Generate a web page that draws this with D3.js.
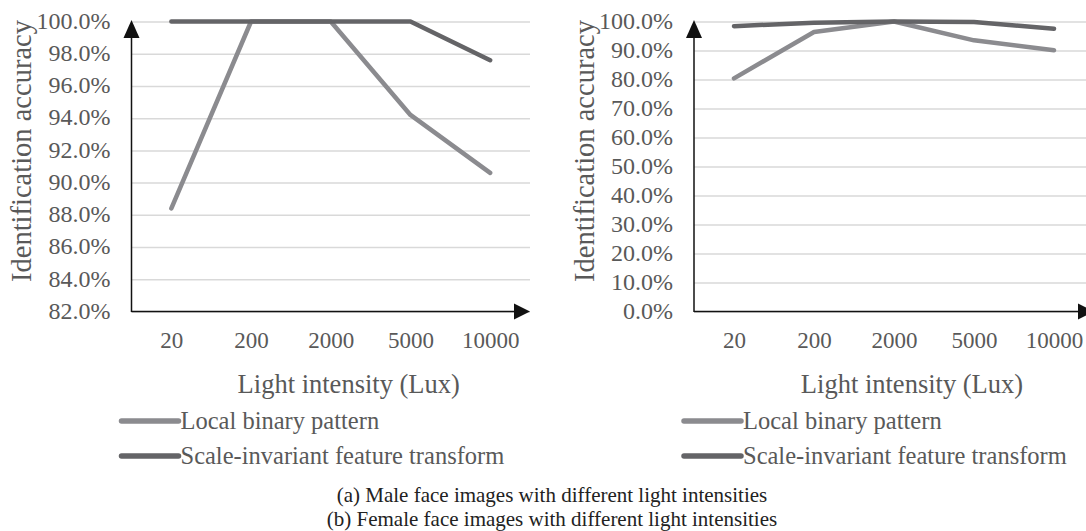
<!DOCTYPE html>
<meta charset="utf-8">
<script src="https://cdn.jsdelivr.net/npm/d3@7"></script>
<style>
body { margin: 0; background: #fff; }
.grid line { stroke: #d9d9d9; stroke-width: 1.5px; }
.grid .domain { display: none; }
</style>
<body></body>
<script>
// light intensities (Lux)
var lux = ["20", "200", "2000", "5000", "10000"];

// (a) male faces
var maleLBP  = [88.4, 100, 100, 94.2, 90.6];
var maleSIFT = [100, 100, 100, 100, 97.6];
var maleTicks = [82, 84, 86, 88, 90, 92, 94, 96, 98, 100];

// (b) female faces
var femaleLBP  = [80.4, 96.4, 100, 93.5, 90.1];
var femaleSIFT = [98.4, 99.6, 100, 99.8, 97.5];
var femaleTicks = [0, 10, 20, 30, 40, 50, 60, 70, 80, 90, 100];

var seriesNames = ["Local binary pattern", "Scale-invariant feature transform"];
var seriesColors = ["#8b8b8f", "#646467"];

var serif = "'Liberation Serif', 'Times New Roman', Tinos, 'DejaVu Serif', serif";

var svg = d3.select("body").append("svg")
    .attr("width", 1086)
    .attr("height", 531)
    .style("font-family", serif);

function panel(o) {
  var x = d3.scalePoint().domain(lux).range([o.left, o.right]).padding(0.5);
  var y = d3.scaleLinear().domain(o.domain).range([311.5, 21.5]);
  var g = svg.append("g");

  // gridlines + y tick labels
  g.append("g")
      .attr("class", "grid")
      .attr("transform", "translate(" + o.left + ",0)")
      .call(d3.axisLeft(y).tickValues(o.ticks)
        .tickSize(-(o.right - o.left))
        .tickPadding(21)
        .tickFormat(function(d) { return d.toFixed(1) + "%"; }))
      .selectAll("text")
      .style("font-family", serif)
      .attr("font-size", "24px")
      .attr("dy", "0.28em")
      .attr("fill", "#595959");

  // x tick labels
  var xa = g.append("g")
      .attr("transform", "translate(0,311.5)")
      .call(d3.axisBottom(x).tickSize(0).tickPadding(20));
  xa.select(".domain").remove();
  xa.selectAll("text")
      .style("font-family", serif)
      .attr("font-size", "23px").attr("fill", "#595959");

  // axes with arrows
  g.append("line")
      .attr("x1", o.left).attr("x2", o.left)
      .attr("y1", 312).attr("y2", 36)
      .attr("stroke", "#111").attr("stroke-width", 1.5);
  g.append("path")
      .attr("d", "M" + (o.left - 8) + ",38L" + o.left + ",20L" + (o.left + 8) + ",38Z")
      .attr("fill", "#111");
  g.append("line")
      .attr("x1", o.left).attr("x2", o.right - 14)
      .attr("y1", 311.5).attr("y2", 311.5)
      .attr("stroke", "#111").attr("stroke-width", 1.5);
  g.append("path")
      .attr("d", "M" + (o.right - 16) + "," + 303.5 + "L" + o.right + ",311.5L" + (o.right - 16) + ",319.5Z")
      .attr("fill", "#111");

  // lines
  var line = d3.line()
      .x(function(d, i) { return x(lux[i]); })
      .y(function(d) { return y(d); });
  [o.lbp, o.sift].forEach(function(s, i) {
    g.append("path")
        .datum(s)
        .attr("d", line)
        .attr("fill", "none")
        .attr("stroke", seriesColors[i])
        .attr("stroke-width", 4.5)
        .attr("stroke-linecap", "round")
        .attr("stroke-linejoin", "round");
  });

  // axis titles
  g.append("text")
      .attr("transform", "translate(" + (o.left - 110) + ",151) rotate(-90)")
      .attr("text-anchor", "middle")
      .attr("dy", "0.35em")
      .attr("font-size", "28.5px")
      .attr("fill", "#595959")
      .text("Identification accuracy");
  g.append("text")
      .attr("x", (o.left + o.right) / 2 + 18)
      .attr("y", 393)
      .attr("text-anchor", "middle")
      .attr("font-size", "26.5px")
      .attr("fill", "#595959")
      .text("Light intensity (Lux)");

  // legend
  var leg = g.selectAll(".leg").data(seriesNames).enter().append("g")
      .attr("transform", function(d, i) { return "translate(" + (o.left - 10) + "," + (421 + i * 35) + ")"; });
  leg.append("line")
      .attr("x1", 0).attr("x2", 57)
      .attr("stroke", function(d, i) { return seriesColors[i]; })
      .attr("stroke-width", 5.5)
      .attr("stroke-linecap", "round");
  leg.append("text")
      .attr("x", 59)
      .attr("dy", "0.33em")
      .attr("font-size", "24.5px")
      .attr("fill", "#595959")
      .text(function(d) { return d; });
}

panel({left: 131.5, right: 530, domain: [82, 100], ticks: maleTicks, lbp: maleLBP, sift: maleSIFT});
panel({left: 694, right: 1094, domain: [0, 100], ticks: femaleTicks, lbp: femaleLBP, sift: femaleSIFT});

svg.append("text")
    .attr("x", 552).attr("y", 495).attr("dy", "0.33em")
    .attr("text-anchor", "middle").attr("font-size", "21px")
    .attr("fill", "#222")
    .text("(a) Male face images with different light intensities");
svg.append("text")
    .attr("x", 552).attr("y", 519).attr("dy", "0.33em")
    .attr("text-anchor", "middle").attr("font-size", "21px")
    .attr("fill", "#222")
    .text("(b) Female face images with different light intensities");
</script>
